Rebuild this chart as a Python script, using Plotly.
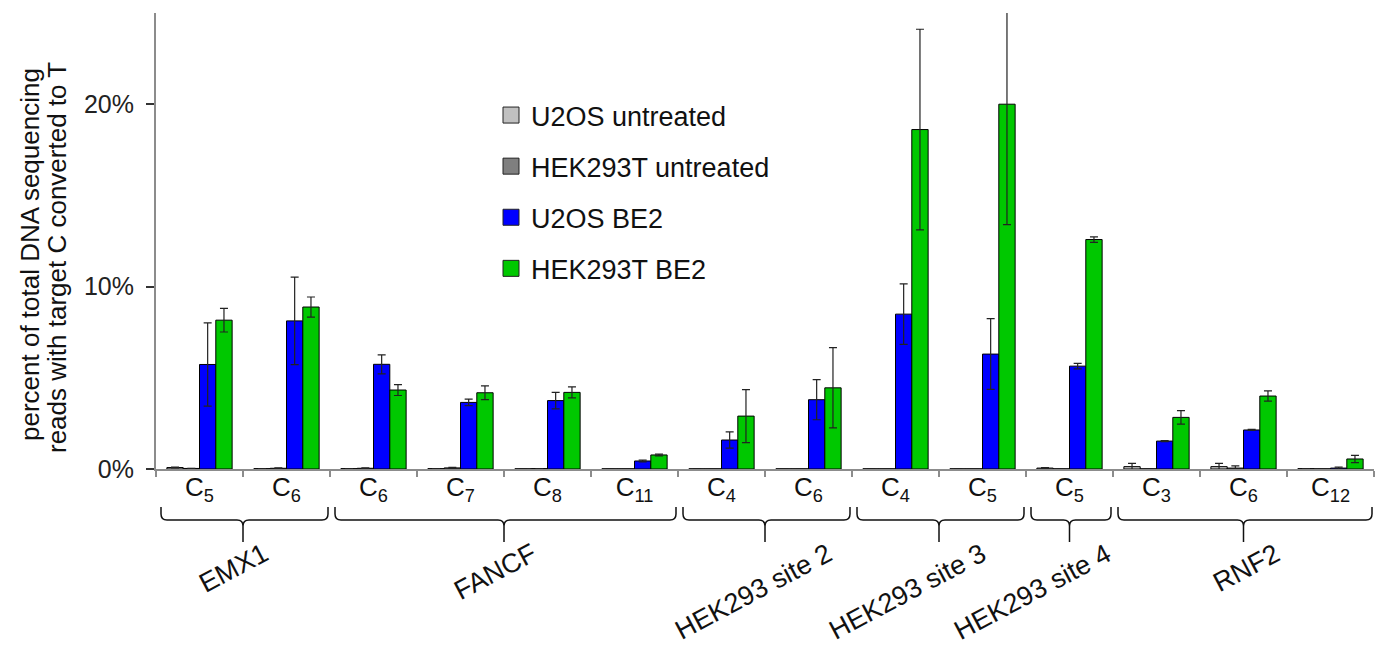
import plotly.graph_objects as go

# ---------------- data ----------------
groups = ["EMX1", "FANCF", "HEK293 site 2", "HEK293 site 3", "HEK293 site 4", "RNF2"]
group_sizes = [2, 4, 2, 2, 1, 3]
target_c = ["5", "6", "6", "7", "8", "11", "4", "6", "4", "5", "5", "3", "6", "12"]

u2os_untreated = [0.08, 0.02, 0.02, 0.02, 0.01, 0.01, 0.01, 0.01, 0.01, 0.01, 0.05, 0.13, 0.13, 0.02]
u2os_untreated_err = [0.02, 0.0, 0.0, 0.0, 0.0, 0.0, 0.0, 0.0, 0.0, 0.0, 0.02, 0.18, 0.18, 0.0]
hek_untreated = [0.03, 0.04, 0.04, 0.06, 0.02, 0.01, 0.01, 0.01, 0.01, 0.01, 0.01, 0.01, 0.05, 0.01]
hek_untreated_err = [0.01, 0.02, 0.02, 0.03, 0.0, 0.0, 0.0, 0.0, 0.0, 0.0, 0.0, 0.0, 0.12, 0.0]
u2os_be2 = [5.73, 8.12, 5.74, 3.65, 3.75, 0.44, 1.59, 3.8, 8.49, 6.3, 5.64, 1.53, 2.14, 0.05]
u2os_be2_err = [2.28, 2.4, 0.52, 0.18, 0.45, 0.05, 0.45, 1.1, 1.66, 1.94, 0.15, 0.03, 0.03, 0.05]
hek_be2 = [8.16, 8.88, 4.33, 4.18, 4.2, 0.77, 2.9, 4.45, 18.61, 20.0, 12.58, 2.83, 4.0, 0.55]
hek_be2_err = [0.65, 0.55, 0.3, 0.38, 0.3, 0.05, 1.45, 2.2, 5.5, 6.6, 0.15, 0.37, 0.28, 0.2]

series_names = ["U2OS untreated", "HEK293T untreated", "U2OS BE2", "HEK293T BE2"]
y_ticks = [0, 10, 20]

# ---------------- styling ----------------
colors = ["#C0C0C0", "#7F7F7F", "#0000FF", "#00C800"]
FONT = "Arial, Liberation Sans, sans-serif"
BODY = 8                       # default page margin of the html body
W, H = 1384 - BODY, 650 - BODY
PX0, PY0 = 156, 469            # plot-area left / bottom in screen pixels
PW, PH = 1218, 456             # plot-area size
ML, MT = PX0 - BODY, PY0 - PH - BODY
MR = W - ML - PW
MB = H - MT - PH
label_dx = [-9, -9, -12, -32, -37, 3]  # px offsets of group labels

def py(p):  # screen pixel y -> paper y
    return (PY0 - p) / PH

def px(p):  # screen pixel x -> paper x
    return (p - PX0) / PW

# category ids
grp_of = []
for g, n in zip(groups, group_sizes):
    grp_of += [g] * n
cat_ids = [f"{g}|C{c}|{i}" for i, (g, c) in enumerate(zip(grp_of, target_c))]
tick_text = [f"C<sub>{c}</sub>" for c in target_c]
ncat = len(cat_ids)

fig = go.Figure()
vals = [u2os_untreated, hek_untreated, u2os_be2, hek_be2]
errs = [u2os_untreated_err, hek_untreated_err, u2os_be2_err, hek_be2_err]
for name, v, e, col in zip(series_names, vals, errs, colors):
    fig.add_trace(go.Bar(
        x=cat_ids, y=v, name=name, marker=dict(color=col, line=dict(color="black", width=1)),
        error_y=dict(type="data", array=e, color="#222222", thickness=1.2, width=4),
        showlegend=False,
    ))
for name, col in zip(series_names, colors):
    fig.add_trace(go.Scatter(
        x=[None], y=[None], mode="markers", name=name, legendgroup=name,
        marker=dict(symbol="square", size=16, color=col, line=dict(color="#222222", width=1)),
    ))

# braces and group labels
shapes, annotations = [], []
start = 0
for gi, (g, n) in enumerate(zip(groups, group_sizes)):
    L = (start + 5 / 87) / ncat
    R = (start + n - 2 / 87) / ncat
    C = (start + n / 2) / ncat
    dx = 6 / PW
    dy = 6 / PH
    yT, yH, yS = py(507), py(520), py(542)
    path = (f"M{L},{yT} L{L},{yH+dy} Q{L},{yH} {L+dx},{yH} L{C-dx},{yH} Q{C},{yH} {C},{yH-dy} L{C},{yS} "
            f"M{C},{yH-dy} Q{C},{yH} {C+dx},{yH} L{R-dx},{yH} Q{R},{yH} {R},{yH+dy} L{R},{yT}")
    shapes.append(dict(type="path", xref="paper", yref="paper", path=path,
                       line=dict(color="#111111", width=1.5)))
    annotations.append(dict(xref="paper", yref="paper", x=C + label_dx[gi] / PW, y=py(535),
                            xanchor="center", yanchor="top", text=g, showarrow=False, textangle=-28,
                            font=dict(family=FONT, size=27, color="#111111")))
    start += n

# y-axis title (two lines)
annotations.append(dict(xref="paper", yref="paper", x=px(30), y=py(255), xanchor="center",
                        yanchor="middle", text="percent of total DNA sequencing", showarrow=False,
                        textangle=-90, font=dict(family=FONT, size=26, color="#111111")))
annotations.append(dict(xref="paper", yref="paper", x=px(57), y=py(258), xanchor="center",
                        yanchor="middle", text="reads with target C converted to T", showarrow=False,
                        textangle=-90, font=dict(family=FONT, size=26, color="#111111")))

fig.update_layout(
    width=W, height=H, margin=dict(l=ML, r=MR, t=MT, b=MB, pad=0),
    plot_bgcolor="white", paper_bgcolor="white",
    barmode="group", bargap=0.25, bargroupgap=0,
    font=dict(family=FONT, color="#111111"),
    showlegend=True,
    legend=dict(x=px(491), y=py(91), xanchor="left", yanchor="top",
                font=dict(family=FONT, size=27, color="#111111"), bgcolor="rgba(0,0,0,0)",
                traceorder="grouped", tracegroupgap=13, itemsizing="trace"),
    xaxis=dict(type="category", categoryorder="array", categoryarray=cat_ids,
               tickmode="array", tickvals=cat_ids, ticktext=tick_text, tickson="boundaries",
               range=[-0.5, ncat - 0.5], showline=True, linecolor="#8c8c8c", linewidth=2,
               ticks="outside", ticklen=6, tickcolor="#8c8c8c", tickwidth=1.5, ticklabelstandoff=-6,
               tickfont=dict(family=FONT, size=26, color="#111111"), showgrid=False, zeroline=False),
    yaxis=dict(range=[0, 25], tickmode="array", tickvals=y_ticks, ticktext=[f"{t}%" for t in y_ticks],
               showline=True, linecolor="#8c8c8c", linewidth=2, ticks="outside", ticklen=8,
               tickcolor="#333333", tickwidth=1.5, ticklabelstandoff=7,
               tickfont=dict(family=FONT, size=25, color="#222222"), showgrid=False, zeroline=False),
    shapes=shapes, annotations=annotations,
)

fig.write_html("out.html")
